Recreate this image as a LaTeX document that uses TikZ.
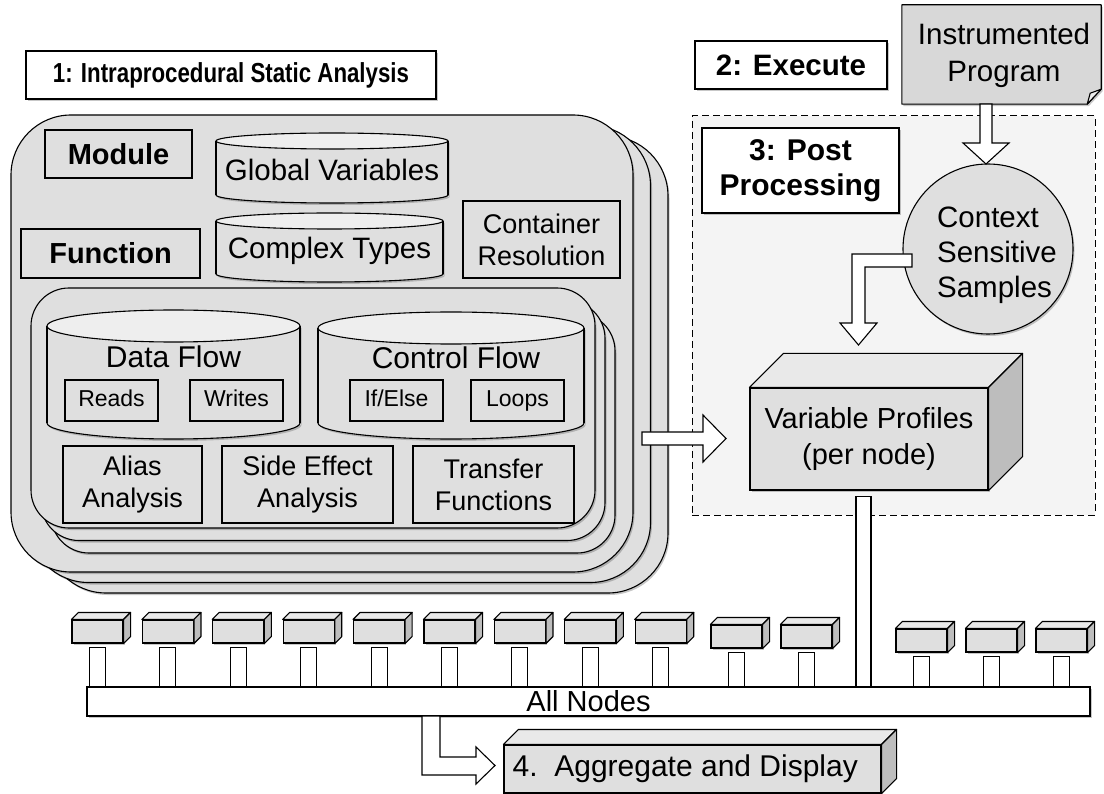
\documentclass[tikz,border=0pt]{standalone}
\usepackage{fontspec}
\setmainfont{Liberation Sans}
\newfontfamily\condensed[FakeStretch=0.81]{Liberation Sans}
\usetikzlibrary{calc,shadows}

\definecolor{panel}{HTML}{DFDFDF}
\definecolor{capfill}{HTML}{EEEEEE}
\definecolor{topface}{HTML}{E9E9E9}
\definecolor{sideface}{HTML}{BDBDBD}
\definecolor{regionfill}{HTML}{F4F4F4}
\definecolor{docfill}{HTML}{D8D8D8}

\newcommand\fsz[2]{\fontsize{#1}{#2}\selectfont}

% vertical cylinder: x1, y1, x2, y2, half height of the end ellipses
\newcommand\drawcyl[5]{%
  \fill[black,opacity=.2] ({#1+1.5},{#2+#5+2}) rectangle ({#3+1.5},{#4-#5+2})
    ({(#1+#3)/2+1.5},{#4-#5+2}) ellipse [x radius={(#3-#1)/2}, y radius=#5];
  \filldraw[fill=panel, outline] ({(#1+#3)/2},{#4-#5}) ellipse [x radius={(#3-#1)/2}, y radius=#5];
  \fill[panel] (#1,{#2+#5}) rectangle (#3,{#4-#5});
  \draw[outline] (#1,{#2+#5}) -- (#1,{#4-#5}) (#3,{#2+#5}) -- (#3,{#4-#5});
  \filldraw[fill=capfill, outline] ({(#1+#3)/2},{#2+#5}) ellipse [x radius={(#3-#1)/2}, y radius=#5];
}

% box with depth: name, left, top, width, height, depth
\newcommand\cuboid[6]{%
  \node[cubefront, minimum width=#4pt, minimum height=#5pt] (#1) at ({#2+#4/2},{#3+#5/2}) {};
  \filldraw[cubetop] (#1.north west) -- ++(#6,-#6) -- ([shift={(#6,-#6)}]#1.north east) -- (#1.north east) -- cycle;
  \filldraw[cubeside] (#1.north east) -- ++(#6,-#6) -- ([shift={(#6,-#6)}]#1.south east) -- (#1.south east) -- cycle;
}

\begin{document}
\begin{tikzpicture}[x=1pt,y=-1pt,
  outline/.style={draw=black, line width=1.1pt},
  shd/.style={drop shadow={shadow xshift=1.5pt, shadow yshift=-2pt, opacity=.22, fill=black}},
  layer/.style={outline, fill=panel, shd, inner sep=0},
  plainbox/.style={outline, fill=panel, inner sep=0, align=center},
  tagbox/.style={plainbox, minimum width=93pt, minimum height=41pt, font=\fsz{23}{28}, text height=16.5pt, text depth=5pt},
  titlebox/.style={outline, fill=white, shd, inner sep=0, align=center},
  cubefront/.style={outline, fill=panel, shd, inner sep=0},
  cubetop/.style={outline, fill=topface, line join=round},
  cubeside/.style={outline, fill=sideface, line join=round},
  stem/.style={outline, fill=white},
  blockarrow/.style={outline, fill=white, line join=miter},
]
\useasboundingbox (0,0) rectangle (1104,794);

% post-processing region
\node[draw=black, line width=1pt, dash pattern=on 7pt off 4pt, fill=regionfill,
      minimum width=403pt, minimum height=399pt, inner sep=0] (region) at (893.5,315.5) {};

% ---------- static analysis: module stack ----------
\node[layer, rounded corners=60pt, minimum width=622pt, minimum height=457pt] (mod3) at (357,364.5) {};
\node[layer, rounded corners=60pt, minimum width=622pt, minimum height=457pt] (mod2) at (339.5,354) {};
\node[layer, rounded corners=60pt, minimum width=622pt, minimum height=457pt] (mod1) at (322,343.5) {};

\node[plainbox, minimum width=147pt, minimum height=48pt, font=\fsz{29}{35}\bfseries] (module) at (118.5,154) {Module};
\node[plainbox, minimum width=179pt, minimum height=49pt, font=\fsz{29}{35}\bfseries] (function) at (110.5,253.5) {Function};

\drawcyl{216}{133}{448}{203}{8}
\node[font=\fsz{29.5}{35}, inner sep=0] (globals) at (332,170) {Global Variables};
\drawcyl{216}{213}{443}{282}{8}
\node[font=\fsz{29.5}{35}, inner sep=0] (ctypes) at (329.5,251) {Complex Types};

\node[plainbox, minimum width=157pt, minimum height=77pt, font=\fsz{27}{32}] (container) at (541.5,239.5) {Container\\Resolution};

% ---------- function stack ----------
\node[layer, rounded corners=38pt, minimum width=564pt, minimum height=240pt] (fun3) at (333,433) {};
\node[layer, rounded corners=38pt, minimum width=564pt, minimum height=240pt] (fun2) at (323,420.5) {};
\node[layer, rounded corners=38pt, minimum width=564pt, minimum height=240pt] (fun1) at (313,408) {};

\drawcyl{47}{310}{300}{439}{16}
\node[font=\fsz{30}{36}, inner sep=0] (dataflow) at (173.5,357) {Data Flow};
\node[tagbox] (reads) at (111.5,400.5) {Reads};
\node[tagbox] (writes) at (236.5,400.5) {Writes};

\drawcyl{318}{312}{584}{439}{16}
\node[font=\fsz{30}{36}, inner sep=0] (ctrlflow) at (456,358) {Control Flow};
\node[tagbox] (ifelse) at (396.5,400.5) {If/Else};
\node[tagbox] (loops) at (517.5,400.5) {Loops};

\node[plainbox, minimum width=139pt, minimum height=77pt, font=\fsz{27}{32}] (alias) at (132.5,484.5) {Alias\\Analysis};
\node[plainbox, minimum width=171pt, minimum height=77pt, font=\fsz{27}{32}] (sideeff) at (307.5,484.5) {Side Effect\\Analysis};
\node[plainbox, minimum width=161pt, minimum height=77pt, font=\fsz{27}{32}] (transfer) at (493.5,484.5) {Transfer\\Functions};

% ---------- headings ----------
\node[titlebox, minimum width=410pt, minimum height=48pt, font=\condensed\fsz{27.5}{32}\bfseries] (t1) at (231,75) {1: Intraprocedural Static Analysis};
\node[titlebox, minimum width=192pt, minimum height=48pt, font=\fsz{29.5}{35}\bfseries] (t2) at (791,65) {2: Execute};
\node[titlebox, minimum width=197pt, minimum height=85pt, font=\fsz{30}{35}\bfseries] (t3) at (800.5,170.5) {3: Post\\Processing};

% ---------- instrumented program (document shape) ----------
\node[minimum width=199pt, minimum height=99pt, inner sep=0] (ip) at (1001.5,54.5) {};
\filldraw[fill=docfill, outline, shd, line join=round] (ip.north west) -- (ip.north east) -- ([yshift=15pt]ip.south east)
   -- ([xshift=-14pt]ip.south east) -- (ip.south west) -- cycle;
\filldraw[fill=capfill, outline, line join=round] ([yshift=15pt]ip.south east) -- ([xshift=-11pt,yshift=11pt]ip.south east)
   -- ([xshift=-14pt]ip.south east) -- cycle;
\node[align=center, font=\fsz{29.5}{37}, inner sep=0] (iptext) at (1004,55) {Instrumented\\Program};

% ---------- samples and profiles ----------
\node[circle, outline, fill=panel, shd, minimum size=170pt, inner sep=0] (css) at (988,249) {};
\node[align=left, font=\fsz{29.5}{35}, inner sep=0] (csstext) at (997,255) {Context\\Sensitive\\Samples};

\draw[blockarrow] (980,104) -- (980,143) -- (963,143) -- (986,164) -- (1009,143) -- (992,143) -- (992,104) -- cycle;
\draw[blockarrow] (912,254) -- (852,254) -- (852,323) -- (840,323) -- (858.5,345) -- (877,323) -- (865,323)
   -- (865,267) -- (912,267) -- cycle;

\cuboid{vp}{750}{388}{238}{102}{34}
\node[align=center, font=\fsz{29}{36}, inner sep=0] (vptext) at (vp.center) {Variable Profiles\\(per node)};

\draw[blockarrow] (642,432) -- (703,432) -- (703,415) -- (726,438.5) -- (703,462) -- (703,445) -- (642,445) -- cycle;

% ---------- all nodes ----------
\node[outline, fill=white, shd, minimum width=1003pt, minimum height=29pt, inner sep=0, font=\fsz{29}{35}] (bar) at (588.5,701.5) {All Nodes};

\draw[stem] ($(vp.south)+(-13,6)$) rectangle ($(vp.south |- bar.north)+(2,0)$);

\foreach \i/\x/\y in {1/72/620, 2/142.4/620, 3/212.8/620, 4/283.2/620, 5/353.6/620, 6/424/620,
                      7/494.4/620, 8/564.8/620, 9/635.2/620, 10/711/625, 11/781/625,
                      12/896/629, 13/966/629, 14/1036/629} {
  \cuboid{n\i}{\x}{\y}{51}{23}{7}
  \draw[stem] ($(n\i.south)+(-8,4)$) rectangle ($(n\i.south |- bar.north)+(8,0)$);
}

% ---------- aggregate ----------
\draw[blockarrow] (422,716) -- (422,775) -- (476,775) -- (476,784) -- (495,765.5) -- (476,747) -- (476,757)
   -- (440,757) -- (440,716) -- cycle;
\cuboid{agg}{504}{745}{377}{48}{15}
\node[anchor=west, font=\fsz{30}{36}, inner sep=0] (aggtext) at ([xshift=9pt]agg.west) {4.\ \ Aggregate and Display};

\end{tikzpicture}
\end{document}
